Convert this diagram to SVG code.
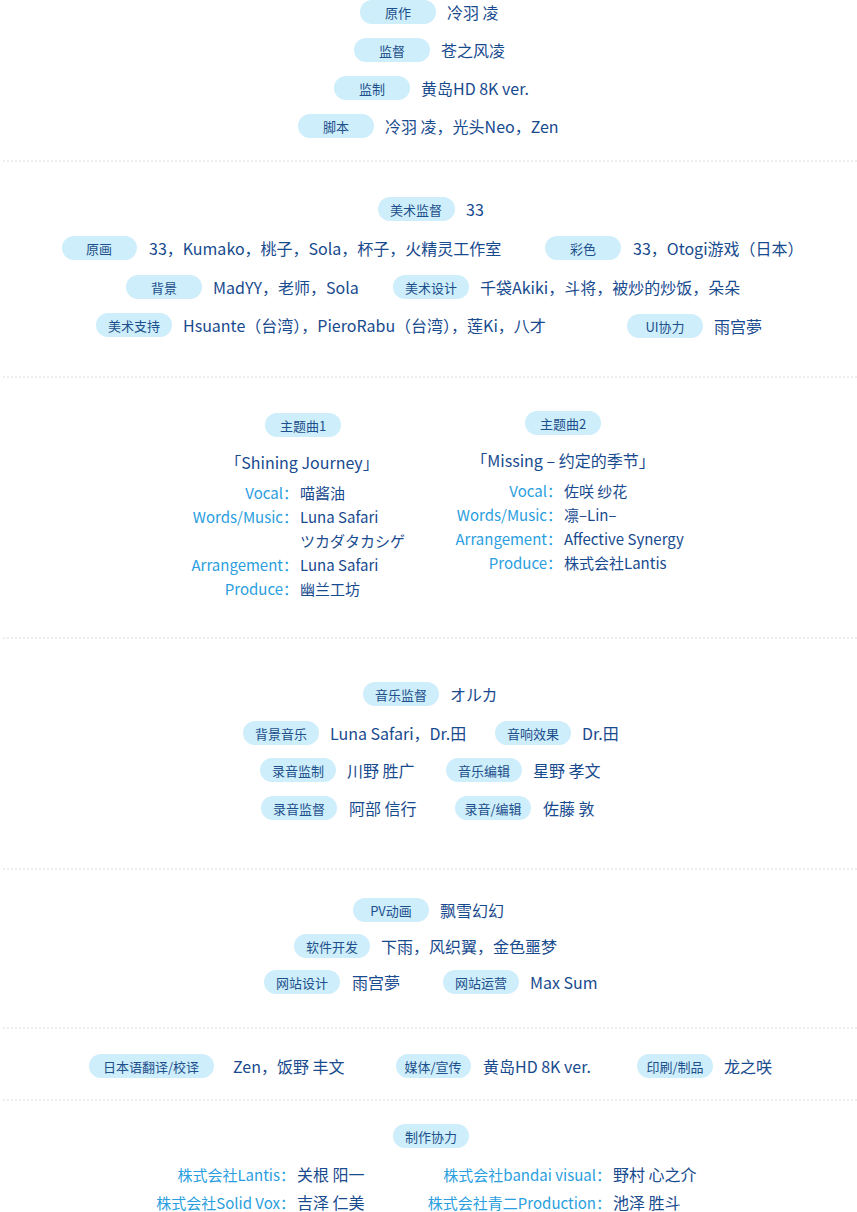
<svg xmlns="http://www.w3.org/2000/svg" width="857" height="1212" viewBox="0 0 857 1212">
<style>
text{font-family:"Noto Sans CJK SC","Noto Sans",sans-serif}
.p{fill:#cdeefa}
.pt{fill:#1d4f8c;font-size:13px;text-anchor:middle;dominant-baseline:central}
.n{fill:#184a8e;font-size:16px;dominant-baseline:central}
.l{fill:#2a9ee0;font-size:15px;text-anchor:end;dominant-baseline:central}
.v{fill:#184a8e;font-size:15px;dominant-baseline:central}
.s{stroke:#dcdcdc;stroke-dasharray:2 2;stroke-width:1}
</style>
<rect width="857" height="1212" fill="#fff"/>
<g id="separators">
<line class="s" x1="3" y1="161" x2="857" y2="161"/>
<line class="s" x1="3" y1="377" x2="857" y2="377"/>
<line class="s" x1="3" y1="638" x2="857" y2="638"/>
<line class="s" x1="3" y1="869" x2="857" y2="869"/>
<line class="s" x1="3" y1="1028" x2="857" y2="1028"/>
<line class="s" x1="3" y1="1100" x2="857" y2="1100"/>
</g>
<g id="sec1">
<rect class="p" x="360" y="0" width="76" height="24" rx="12"/><text class="pt" x="398" y="12">原作</text><text class="n" x="447" y="12">冷羽 凌</text>
<rect class="p" x="354" y="38" width="76" height="24" rx="12"/><text class="pt" x="392" y="50">监督</text><text class="n" x="441" y="50">苍之风凌</text>
<rect class="p" x="334" y="76" width="76" height="24" rx="12"/><text class="pt" x="372" y="88">监制</text><text class="n" x="421" y="88">黄岛HD 8K ver.</text>
<rect class="p" x="298" y="114" width="76" height="24" rx="12"/><text class="pt" x="336" y="126">脚本</text><text class="n" x="385" y="126">冷羽 凌，光头Neo，Zen</text>
</g>
<g id="sec2">
<rect class="p" x="378" y="197" width="77" height="24" rx="12"/><text class="pt" x="416" y="209">美术监督</text><text class="n" x="466" y="209">33</text>
<rect class="p" x="62" y="236" width="75" height="24" rx="12"/><text class="pt" x="99" y="248">原画</text><text class="n" x="149" y="248">33，Kumako，桃子，Sola，杯子，火精灵工作室</text>
<rect class="p" x="545" y="236" width="76" height="24" rx="12"/><text class="pt" x="583" y="248">彩色</text><text class="n" x="633" y="248">33，Otogi游戏（日本）</text>
<rect class="p" x="126" y="275" width="76" height="24" rx="12"/><text class="pt" x="164" y="287">背景</text><text class="n" x="213" y="287">MadYY，老师，Sola</text>
<rect class="p" x="393" y="275" width="76" height="24" rx="12"/><text class="pt" x="431" y="287">美术设计</text><text class="n" x="480" y="287">千袋Akiki，斗将，被炒的炒饭，朵朵</text>
<rect class="p" x="96" y="313" width="76" height="24" rx="12"/><text class="pt" x="134" y="325">美术支持</text><text class="n" x="183" y="325">Hsuante（台湾），PieroRabu（台湾），莲Ki，八才</text>
<rect class="p" x="627" y="314" width="76" height="24" rx="12"/><text class="pt" x="665" y="326">UI协力</text><text class="n" x="714" y="326">雨宫夢</text>
</g>
<g id="sec3">
<rect class="p" x="265" y="413" width="76" height="24" rx="12"/><text class="pt" x="303" y="425">主题曲1</text>
<rect class="p" x="525" y="411" width="76" height="24" rx="12"/><text class="pt" x="563" y="423">主题曲2</text>
<text class="n" x="302" y="462" text-anchor="middle">「Shining Journey」</text>
<text class="n" x="563" y="460" text-anchor="middle">「Missing – 约定的季节」</text>
<text class="l" x="298" y="492">Vocal：</text><text class="v" x="300" y="492">喵酱油</text>
<text class="l" x="298" y="516">Words/Music：</text><text class="v" x="300" y="516">Luna Safari</text>
<text class="v" x="300" y="540">ツカダタカシゲ</text>
<text class="l" x="298" y="564">Arrangement：</text><text class="v" x="300" y="564">Luna Safari</text>
<text class="l" x="298" y="588">Produce：</text><text class="v" x="300" y="588">幽兰工坊</text>
<text class="l" x="562" y="490">Vocal：</text><text class="v" x="564" y="490">佐咲 纱花</text>
<text class="l" x="562" y="514">Words/Music：</text><text class="v" x="564" y="514">凛–Lin–</text>
<text class="l" x="562" y="538">Arrangement：</text><text class="v" x="564" y="538">Affective Synergy</text>
<text class="l" x="562" y="562">Produce：</text><text class="v" x="564" y="562">株式会社Lantis</text>
</g>
<g id="sec4">
<rect class="p" x="363" y="682" width="76" height="24" rx="12"/><text class="pt" x="401" y="694">音乐监督</text><text class="n" x="450" y="694">オルカ</text>
<rect class="p" x="243" y="721" width="76" height="24" rx="12"/><text class="pt" x="281" y="733">背景音乐</text><text class="n" x="330" y="733">Luna Safari，Dr.田</text>
<rect class="p" x="495" y="721" width="76" height="24" rx="12"/><text class="pt" x="533" y="733">音响效果</text><text class="n" x="582" y="733">Dr.田</text>
<rect class="p" x="260" y="758" width="76" height="24" rx="12"/><text class="pt" x="298" y="770">录音监制</text><text class="n" x="347" y="770">川野 胜广</text>
<rect class="p" x="446" y="758" width="76" height="24" rx="12"/><text class="pt" x="484" y="770">音乐编辑</text><text class="n" x="533" y="770">星野 孝文</text>
<rect class="p" x="261" y="796" width="76" height="24" rx="12"/><text class="pt" x="299" y="808">录音监督</text><text class="n" x="349" y="808">阿部 信行</text>
<rect class="p" x="455" y="796" width="76" height="24" rx="12"/><text class="pt" x="493" y="808">录音/编辑</text><text class="n" x="543" y="808">佐藤 敦</text>
</g>
<g id="sec5">
<rect class="p" x="353" y="898" width="76" height="24" rx="12"/><text class="pt" x="391" y="910">PV动画</text><text class="n" x="440" y="910">飘雪幻幻</text>
<rect class="p" x="294" y="934" width="76" height="24" rx="12"/><text class="pt" x="332" y="946">软件开发</text><text class="n" x="381" y="946">下雨，风织翼，金色噩梦</text>
<rect class="p" x="264" y="970" width="76" height="24" rx="12"/><text class="pt" x="302" y="982">网站设计</text><text class="n" x="352" y="982">雨宫夢</text>
<rect class="p" x="443" y="970" width="76" height="24" rx="12"/><text class="pt" x="481" y="982">网站运营</text><text class="n" x="530" y="982">Max Sum</text>
</g>
<g id="sec6">
<rect class="p" x="89" y="1054" width="125" height="24" rx="12"/><text class="pt" x="151" y="1066">日本语翻译/校译</text><text class="n" x="233" y="1066">Zen，饭野 丰文</text>
<rect class="p" x="396" y="1054" width="75" height="24" rx="12"/><text class="pt" x="433" y="1066">媒体/宣传</text><text class="n" x="483" y="1066">黄岛HD 8K ver.</text>
<rect class="p" x="637" y="1054" width="76" height="24" rx="12"/><text class="pt" x="675" y="1066">印刷/制品</text><text class="n" x="724" y="1066">龙之咲</text>
</g>
<g id="sec7">
<rect class="p" x="393" y="1124" width="76" height="24" rx="12"/><text class="pt" x="431" y="1136">制作协力</text>
<text class="l" x="295" y="1174">株式会社Lantis：</text><text class="n" x="297" y="1174">关根 阳一</text>
<text class="l" x="611" y="1174">株式会社bandai visual：</text><text class="n" x="613" y="1174">野村 心之介</text>
<text class="l" x="295" y="1202">株式会社Solid Vox：</text><text class="n" x="297" y="1202">吉泽 仁美</text>
<text class="l" x="611" y="1202">株式会社青二Production：</text><text class="n" x="613" y="1202">池泽 胜斗</text>
</g>
</svg>
